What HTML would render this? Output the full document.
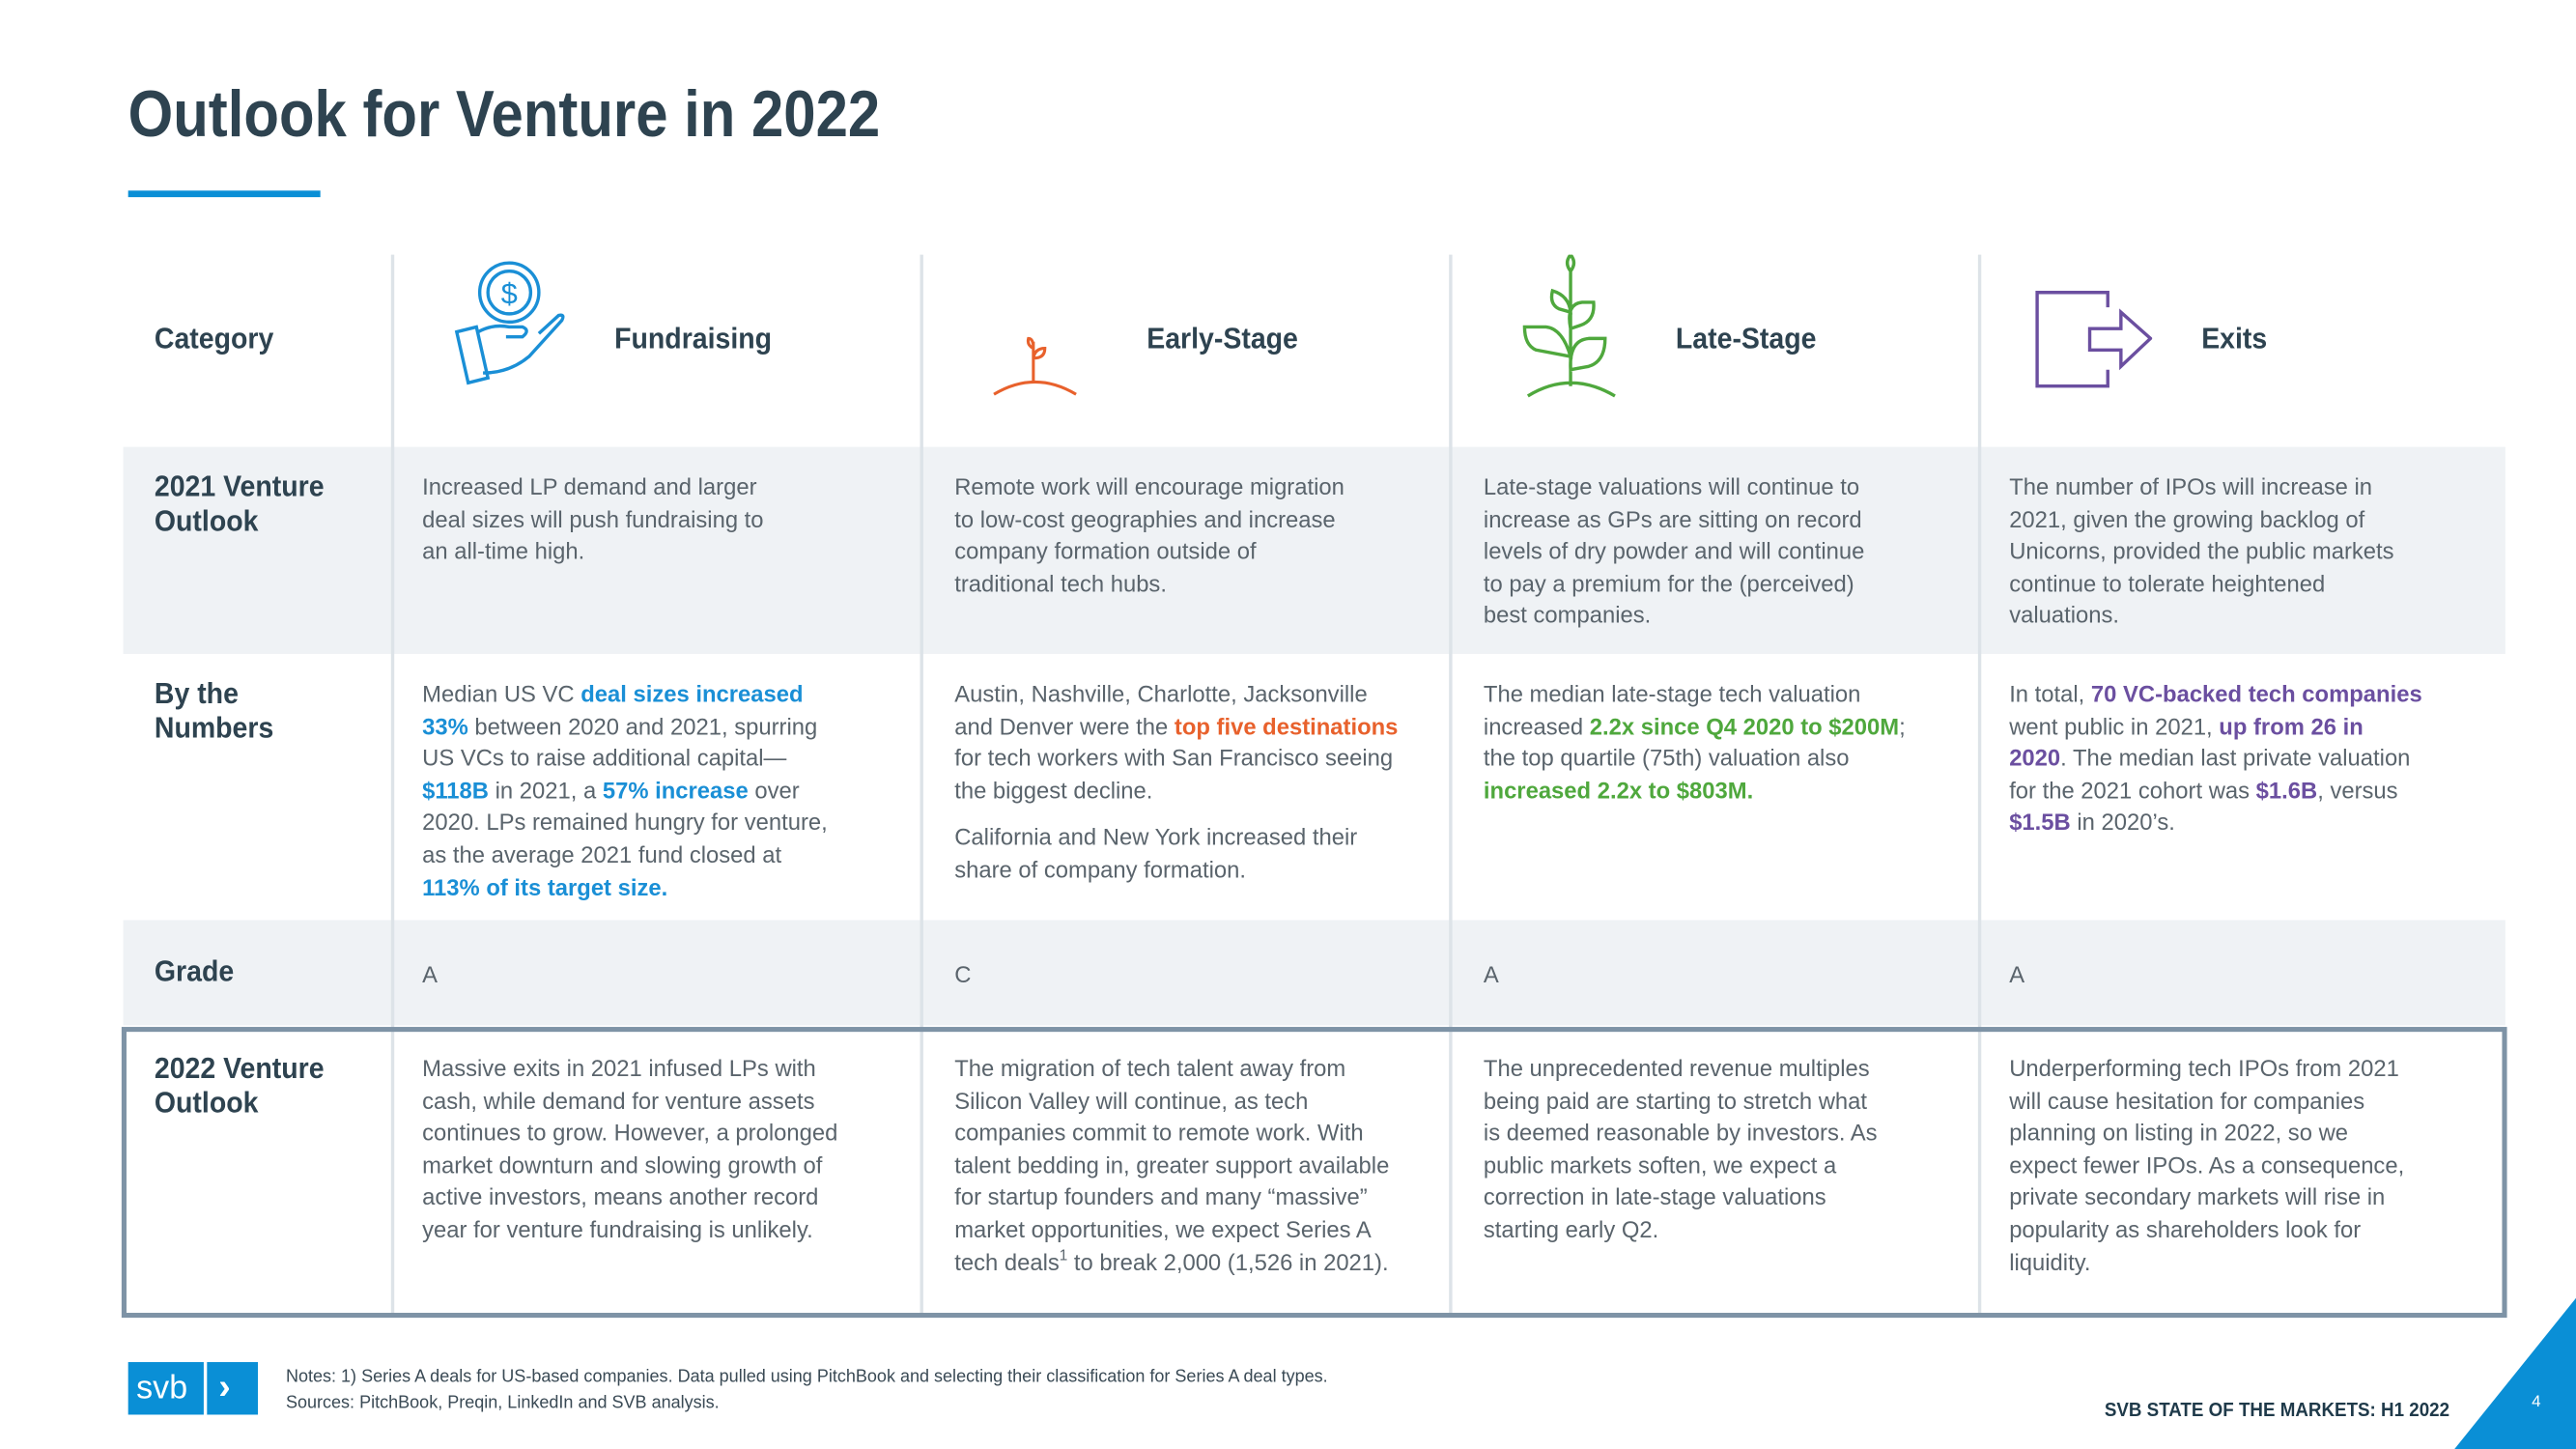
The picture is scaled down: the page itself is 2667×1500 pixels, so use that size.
<!DOCTYPE html>
<html><head><meta charset="utf-8">
<style>
html,body{margin:0;padding:0;background:#fff;}
body{width:2667px;height:1500px;overflow:hidden;position:relative;}
#s{position:absolute;left:0;top:0;width:1568px;height:882px;transform:scale(1.70089);transform-origin:0 0;font-family:"Liberation Sans",sans-serif;}
.a{position:absolute;}
.h{font-weight:bold;color:#2e4350;font-size:18px;line-height:21px;transform:scaleX(0.93);transform-origin:0 0;}
.t{font-size:14px;line-height:19.6px;color:#5a646c;white-space:nowrap;}
.b{color:#1a8fd6;font-weight:bold}.o{color:#e8612c;font-weight:bold}.g{color:#4fa83d;font-weight:bold}.p{color:#6b4fa0;font-weight:bold}
.v{position:absolute;top:155px;width:2px;height:645px;background:#dde3e8;}
sup{font-size:9px;line-height:0;vertical-align:6px;}
</style></head><body><div id="s">
<div class="a h" style="left:78px;top:46px;font-size:40px;line-height:48px;color:#2e4350;transform:scaleX(0.88);white-space:nowrap;">Outlook for Venture in 2022</div>
<div class="a" style="left:78px;top:116px;width:117px;height:4px;background:#0a8fd6"></div>

<div class="a" style="left:75px;top:272px;width:1450px;height:126px;background:#eff2f5"></div>
<div class="a" style="left:75px;top:560px;width:1450px;height:64px;background:#eff2f5"></div>
<div class="v" style="left:238px"></div><div class="v" style="left:560px"></div><div class="v" style="left:882px"></div><div class="v" style="left:1204px"></div>
<div class="a" style="left:74px;top:625px;width:1446px;height:171px;border:3px solid #7e93a6"></div>

<div class="a h" style="left:94px;top:196px">Category</div>
<div class="a h" style="left:374px;top:196px">Fundraising</div>
<div class="a h" style="left:698px;top:196px">Early-Stage</div>
<div class="a h" style="left:1020px;top:196px">Late-Stage</div>
<div class="a h" style="left:1340px;top:196px">Exits</div>

<svg class="a" style="left:270px;top:155px" width="80" height="90" viewBox="0 0 80 90" fill="none" stroke="#1a8fd6" stroke-width="2">
<circle cx="40" cy="23" r="18"/><circle cx="40" cy="23" r="13"/><text x="40" y="30" font-size="18" fill="#1a8fd6" stroke="none" text-anchor="middle" font-family="Liberation Sans">$</text>
<path d="M8 47 L20 44 L27 75 L15 78 Z"/><path d="M21 47 Q30 42 40 44 L48 44 Q53 46 48 50 L38 50 M24 72 Q40 72 52 62 L72 40 Q74 36 70 37 L58 48"/></svg>
<svg class="a" style="left:600px;top:200px" width="60" height="45" viewBox="0 0 60 45" fill="none" stroke="#e8612c" stroke-width="1.8">
<path d="M5 40 Q30 25 55 40"/><path d="M29 32 L29 8 M29 18 Q36 18 36 12 Q30 12 29 18 M29 12 Q25 10 26 6 Q29 6 29 12"/></svg>
<svg class="a" style="left:925px;top:155px" width="65" height="90" viewBox="0 0 65 90" fill="none" stroke="#4fa83d" stroke-width="2">
<path d="M5 86 Q31 70 58 86 M31 80 L31 10 M31 10 Q27 5 31 0 Q35 5 31 10 M31 35 Q30 25 20 22 Q18 30 24 33 Z M31 45 Q28 30 38 29 L45 29 Q46 40 37 43 Z M31 62 Q26 45 16 44 L3 44 Q3 55 10 58 Z M31 70 Q30 52 42 51 L52 51 Q52 65 42 68 Z"/></svg>
<svg class="a" style="left:1235px;top:175px" width="75" height="65" viewBox="0 0 75 65" fill="none" stroke="#6b4fa0" stroke-width="2">
<path d="M48 12 L48 3 L5 3 L5 60 L48 60 L48 50 M48 38 L37 38 L37 25 L56 25 L56 15 L74 31 L56 48 L56 38 L48 38"/></svg>

<div class="a h" style="left:94px;top:286px">2021 Venture<br>Outlook</div>
<div class="a h" style="left:94px;top:412px">By the<br>Numbers</div>
<div class="a h" style="left:94px;top:581px">Grade</div>
<div class="a h" style="left:94px;top:640px">2022 Venture<br>Outlook</div>

<div class="a t" style="left:257px;top:287px">Increased LP demand and larger<br>deal sizes will push fundraising to<br>an all-time high.</div>
<div class="a t" style="left:581px;top:287px">Remote work will encourage migration<br>to low-cost geographies and increase<br>company formation outside of<br>traditional tech hubs.</div>
<div class="a t" style="left:903px;top:287px">Late-stage valuations will continue to<br>increase as GPs are sitting on record<br>levels of dry powder and will continue<br>to pay a premium for the (perceived)<br>best companies.</div>
<div class="a t" style="left:1223px;top:287px">The number of IPOs will increase in<br>2021, given the growing backlog of<br>Unicorns, provided the public markets<br>continue to tolerate heightened<br>valuations.</div>

<div class="a t" style="left:257px;top:413px">Median US VC <span class="b">deal sizes increased</span><br><span class="b">33%</span> between 2020 and 2021, spurring<br>US VCs to raise additional capital—<br><span class="b">$118B</span> in 2021, a <span class="b">57% increase</span> over<br>2020. LPs remained hungry for venture,<br>as the average 2021 fund closed at<br><span class="b">113% of its target size.</span></div>
<div class="a t" style="left:581px;top:413px">Austin, Nashville, Charlotte, Jacksonville<br>and Denver were the <span class="o">top five destinations</span><br>for tech workers with San Francisco seeing<br>the biggest decline.<div style="height:9px"></div>California and New York increased their<br>share of company formation.</div>
<div class="a t" style="left:903px;top:413px">The median late-stage tech valuation<br>increased <span class="g">2.2x since Q4 2020 to $200M</span>;<br>the top quartile (75th) valuation also<br><span class="g">increased 2.2x to $803M.</span></div>
<div class="a t" style="left:1223px;top:413px">In total, <span class="p">70 VC-backed tech companies</span><br>went public in 2021, <span class="p">up from 26 in</span><br><span class="p">2020</span>. The median last private valuation<br>for the 2021 cohort was <span class="p">$1.6B</span>, versus<br><span class="p">$1.5B</span> in 2020’s.</div>

<div class="a t" style="left:257px;top:584px">A</div>
<div class="a t" style="left:581px;top:584px">C</div>
<div class="a t" style="left:903px;top:584px">A</div>
<div class="a t" style="left:1223px;top:584px">A</div>

<div class="a t" style="left:257px;top:641px">Massive exits in 2021 infused LPs with<br>cash, while demand for venture assets<br>continues to grow. However, a prolonged<br>market downturn and slowing growth of<br>active investors, means another record<br>year for venture fundraising is unlikely.</div>
<div class="a t" style="left:581px;top:641px">The migration of tech talent away from<br>Silicon Valley will continue, as tech<br>companies commit to remote work. With<br>talent bedding in, greater support available<br>for startup founders and many “massive”<br>market opportunities, we expect Series A<br>tech deals<sup>1</sup> to break 2,000 (1,526 in 2021).</div>
<div class="a t" style="left:903px;top:641px">The unprecedented revenue multiples<br>being paid are starting to stretch what<br>is deemed reasonable by investors. As<br>public markets soften, we expect a<br>correction in late-stage valuations<br>starting early Q2.</div>
<div class="a t" style="left:1223px;top:641px">Underperforming tech IPOs from 2021<br>will cause hesitation for companies<br>planning on listing in 2022, so we<br>expect fewer IPOs. As a consequence,<br>private secondary markets will rise in<br>popularity as shareholders look for<br>liquidity.</div>

<div class="a" style="left:78px;top:829px;width:79px;height:32px;background:#0a8fd6"></div>
<div class="a" style="left:124px;top:829px;width:2px;height:32px;background:#fff"></div>
<div class="a" style="left:83px;top:833px;color:#fff;font-size:20px;line-height:24px;">svb</div>
<div class="a" style="left:133px;top:831px;color:#fff;font-size:22px;line-height:26px;font-weight:bold;">›</div>
<div class="a" style="left:174px;top:830px;font-size:10.6px;line-height:16px;color:#3a4a55;white-space:nowrap;">Notes: 1) Series A deals for US-based companies. Data pulled using PitchBook and selecting their classification for Series A deal types.<br>Sources: PitchBook, Preqin, LinkedIn and SVB analysis.</div>
<div class="a" style="left:1281px;top:850px;font-size:12px;line-height:16px;font-weight:bold;color:#1f3a4a;white-space:nowrap;transform:scaleX(0.92);transform-origin:0 0;">SVB STATE OF THE MARKETS: H1 2022</div>
<svg class="a" style="left:1490px;top:790px" width="78" height="92"><polygon points="78,0 78,92 4,92" fill="#0a8fd6"/></svg>
<div class="a" style="left:1541px;top:848px;color:#fff;font-size:10px;">4</div>
</div></body></html>
